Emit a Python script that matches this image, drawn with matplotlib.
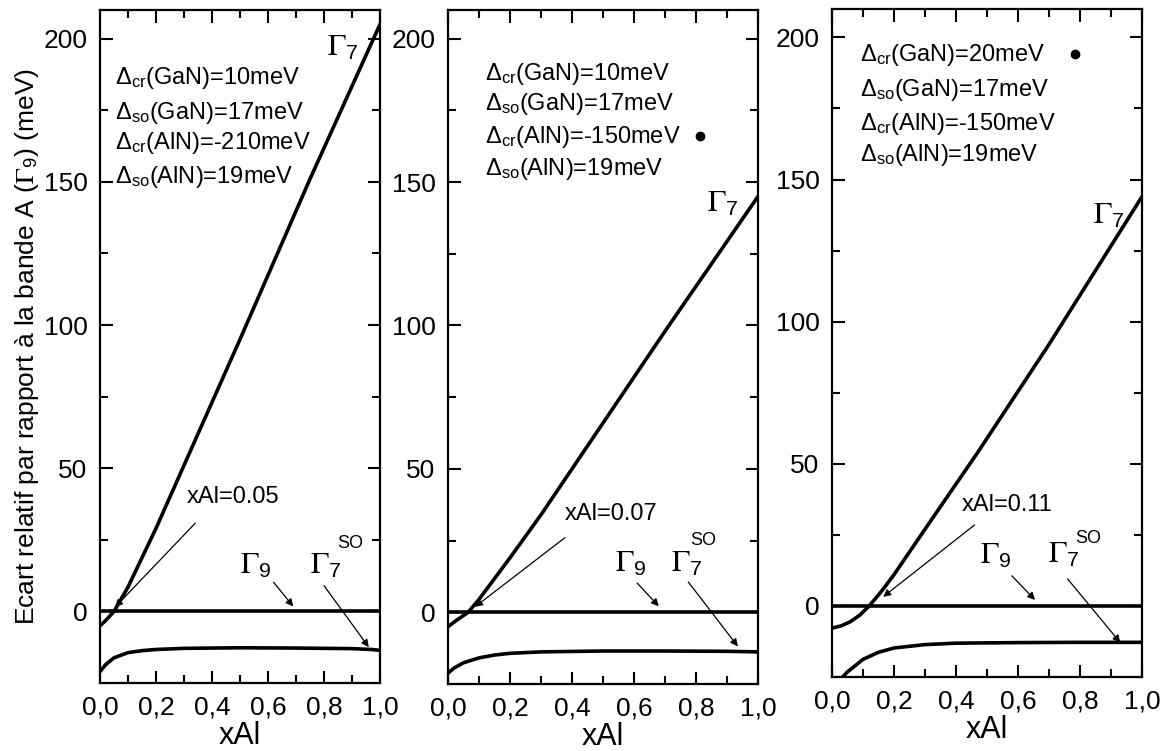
import matplotlib
matplotlib.use("Agg")
import matplotlib.pyplot as plt
from matplotlib.ticker import MultipleLocator, FuncFormatter

plt.rcParams['font.family'] = ['Liberation Sans', 'DejaVu Sans']
plt.rcParams['mathtext.fontset'] = 'custom'
plt.rcParams['mathtext.rm'] = 'Liberation Sans'
plt.rcParams['mathtext.it'] = 'Liberation Sans:italic'
plt.rcParams['mathtext.bf'] = 'Liberation Sans:bold'
plt.rcParams['mathtext.sf'] = 'Liberation Sans'

# panel 1 : dcr(AlN) = -210 meV
x1_g7 = [0.0, 0.02, 0.05, 0.1, 0.2, 0.3, 0.5, 0.75, 1.0]
y1_g7 = [-5, -3.2, 0, 8.5, 29, 51, 95, 151, 205]
x1_so = [0.0, 0.02, 0.05, 0.1, 0.15, 0.2, 0.3, 0.5, 0.7, 0.9, 0.97, 1.0]
y1_so = [-21, -18.6, -16.2, -14.4, -13.7, -13.3, -12.9, -12.7, -12.8, -13.0, -13.3, -13.6]

# panel 2 : dcr(AlN) = -150 meV
x2_g7 = [0.0, 0.03, 0.065, 0.1, 0.2, 0.3, 0.45, 0.7, 1.0]
y2_g7 = [-5, -2.6, 0, 4.5, 19, 34, 58, 98, 145]
x2_so = [0.0, 0.02, 0.05, 0.1, 0.15, 0.2, 0.3, 0.5, 0.7, 0.9, 1.0]
y2_so = [-21.2, -19.4, -17.6, -15.9, -14.9, -14.3, -13.8, -13.5, -13.5, -13.6, -13.8]

# panel 3 : dcr(GaN) = 20 meV
x3_g7 = [0.0, 0.03, 0.06, 0.09, 0.12, 0.16, 0.2, 0.3, 0.47, 0.7, 1.0]
y3_g7 = [-7.8, -7.0, -5.5, -3.2, 0, 5.2, 11, 27, 54, 92, 144]
x3_so = [0.0, 0.03, 0.05, 0.1, 0.15, 0.2, 0.3, 0.4, 0.6, 0.8, 1.0]
y3_so = [-30, -25.5, -23.2, -18.8, -16.3, -14.8, -13.6, -13.1, -12.9, -12.8, -12.8]

params1 = [r'$\Delta_{\rm cr}$(GaN)=10meV', r'$\Delta_{\rm so}$(GaN)=17meV',
           r'$\Delta_{\rm cr}$(AlN)=-210meV', r'$\Delta_{\rm so}$(AlN)=19meV']
params2 = [r'$\Delta_{\rm cr}$(GaN)=10meV', r'$\Delta_{\rm so}$(GaN)=17meV',
           r'$\Delta_{\rm cr}$(AlN)=-150meV', r'$\Delta_{\rm so}$(AlN)=19meV']
params3 = [r'$\Delta_{\rm cr}$(GaN)=20meV', r'$\Delta_{\rm so}$(GaN)=17meV',
           r'$\Delta_{\rm cr}$(AlN)=-150meV', r'$\Delta_{\rm so}$(AlN)=19meV']
cross_labels = ['xAl=0.05', 'xAl=0.07', 'xAl=0.11']

panels = [
    dict(rect=[100/1165, 68/751, 280/1165, 673/751], x=x1_g7, y=y1_g7, xs=x1_so, ys=y1_so,
         params=params1, px=0.054, py=[184.3, 172, 161.6, 149.7], dot=None,
         g7=(0.81, 194), cl=(0.31, 37.7), ca=((0.34, 30.8), (0.054, 1.5)),
         g9=(0.50, 13.3), g9a=((0.62, 10.2), (0.69, 1.7)),
         gso=(0.75, 13.3), so=(0.846, 22), gsoa=((0.80, 9), (0.96, -12.5))),
    dict(rect=[448/1165, 67/751, 310/1165, 674/751], x=x2_g7, y=y2_g7, xs=x2_so, ys=y2_so,
         params=params2, px=0.12, py=[185.7, 175.2, 163.7, 152.5], dot=(0.813, 165.9),
         g7=(0.835, 139.7), cl=(0.377, 32.1), ca=((0.377, 26), (0.087, 1.9)),
         g9=(0.539, 14), g9a=((0.61, 10.2), (0.68, 2.1)),
         gso=(0.72, 14), so=(0.78, 23.5), gsoa=((0.775, 10.6), (0.935, -11.9))),
    dict(rect=[832/1165, 74/751, 310/1165, 668/751], x=x3_g7, y=y3_g7, xs=x3_so, ys=y3_so,
         params=params3, px=0.09, py=[191.6, 179.3, 167.5, 156.4], dot=(0.784, 194.3),
         g7=(0.843, 134.6), cl=(0.418, 33.5), ca=((0.46, 28.5), (0.165, 3.2)),
         g9=(0.477, 14.8), g9a=((0.58, 10.6), (0.655, 2.1)),
         gso=(0.697, 15.3), so=(0.784, 22), gsoa=((0.76, 9.5), (0.93, -12.9))),
]

fig = plt.figure(figsize=(11.65, 7.51), dpi=100)
arrow = dict(arrowstyle='-|>', lw=0.9, color='k', mutation_scale=11, shrinkA=0, shrinkB=0)

for i, p in enumerate(panels):
    ax = fig.add_axes(p['rect'])
    ax.plot(p['x'], p['y'], 'k', lw=2.6)
    ax.plot(p['xs'], p['ys'], 'k', lw=2.6)
    ax.axhline(0, color='k', lw=2.6)
    ax.set_xlim(0, 1)
    ax.set_ylim(-25, 210)

    ax.xaxis.set_major_locator(MultipleLocator(0.2))
    ax.xaxis.set_minor_locator(MultipleLocator(0.1))
    ax.yaxis.set_major_locator(MultipleLocator(50))
    ax.yaxis.set_minor_locator(MultipleLocator(25))
    ax.xaxis.set_major_formatter(FuncFormatter(lambda v, pos: f'{v:.1f}'.replace('.', ',')))
    ax.tick_params(which='both', direction='in', top=True, right=True, width=1.5, labelsize=19)
    ax.tick_params(which='major', length=9)
    ax.tick_params(which='minor', length=5.5)
    ax.tick_params(axis='x', pad=9)
    ax.tick_params(axis='y', pad=9)
    for s in ax.spines.values():
        s.set_linewidth(1.6)
    ax.set_xlabel('xAl', fontsize=22, labelpad=1)

    for txt, yy in zip(p['params'], p['py']):
        ax.text(p['px'], yy, txt, fontsize=17, ha='left', va='baseline')
    if p['dot'] is not None:
        ax.plot(*p['dot'], 'ko', ms=6)

    ax.text(*p['g7'], r'$\Gamma_{\mathregular{7}}$', fontsize=22, math_fontfamily='stix',
            ha='left', va='baseline')
    ax.text(*p['g9'], r'$\Gamma_{\mathregular{9}}$', fontsize=22, math_fontfamily='stix',
            ha='left', va='baseline')
    ax.text(*p['gso'], r'$\Gamma_{\mathregular{7}}$', fontsize=22,
            math_fontfamily='stix', ha='left', va='baseline')
    ax.text(*p['so'], 'SO', fontsize=13, ha='left', va='baseline')
    ax.text(*p['cl'], cross_labels[i], fontsize=17, ha='left', va='baseline')

    ax.annotate('', xy=p['ca'][1], xytext=p['ca'][0], arrowprops=arrow)
    ax.annotate('', xy=p['g9a'][1], xytext=p['g9a'][0], arrowprops=arrow)
    ax.annotate('', xy=p['gsoa'][1], xytext=p['gsoa'][0], arrowprops=arrow)

    if i == 0:
        ax.set_ylabel(r'Ecart relatif par rapport à la bande A ($\Gamma_{\mathregular{9}}$) (meV)',
                      fontsize=19, labelpad=2, math_fontfamily='stix')

fig.savefig('out.png', dpi=100)
